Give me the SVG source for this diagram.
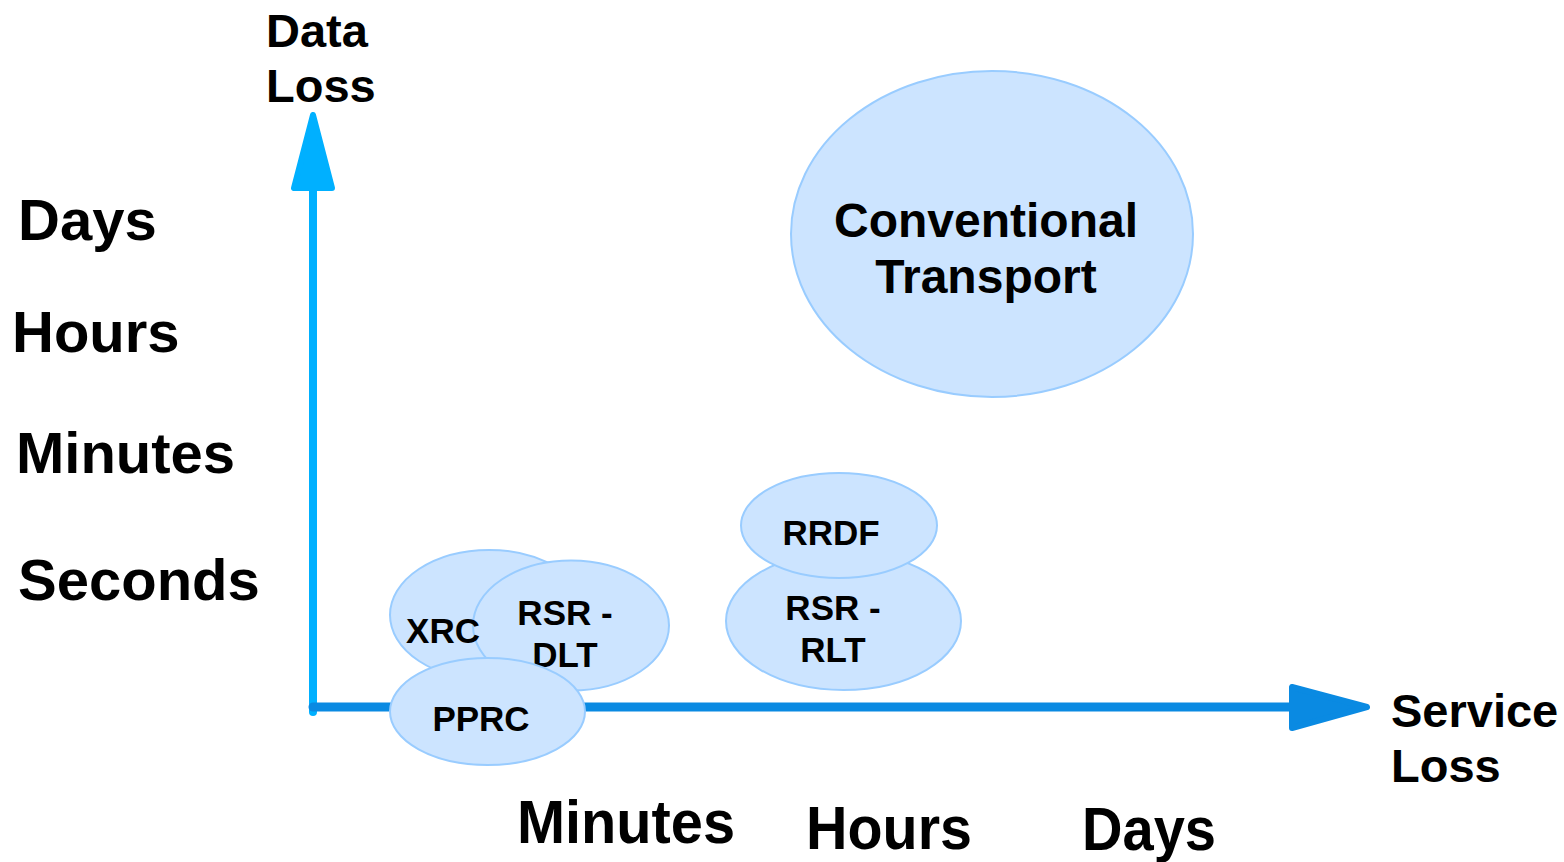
<svg xmlns="http://www.w3.org/2000/svg" width="1564" height="862" viewBox="0 0 1564 862">
<style>
.bubble{fill:#CCE4FF;stroke:#99CCFF;stroke-width:2}
.t{font-family:"Liberation Sans",Arial,sans-serif;font-weight:bold;fill:#000}
.lbl{font-size:35px;text-anchor:middle}
.axl{font-size:58px}
.ttl{font-size:47px}
.bot{font-size:61px}
</style>
<rect width="1564" height="862" fill="#fff"/>
<g id="connectors">
  <line x1="313" y1="712" x2="313" y2="185" stroke="#00B0FF" stroke-width="8" stroke-linecap="round"/>
  <polygon points="313,115 294,188 332,188" fill="#00B0FF" stroke="#00B0FF" stroke-width="6" stroke-linejoin="round"/>
  <line x1="313" y1="707" x2="1295" y2="707" stroke="#0A8AE2" stroke-width="9" stroke-linecap="round"/>
  <polygon points="1367,707 1292,687 1292,728" fill="#0A8AE2" stroke="#0A8AE2" stroke-width="6" stroke-linejoin="round"/>
</g>
<g id="axis-labels">
  <text class="t ttl" x="266" y="47">Data</text>
  <text class="t ttl" x="266" y="102">Loss</text>
  <text class="t axl" x="18" y="240">Days</text>
  <text class="t axl" x="12" y="352">Hours</text>
  <text class="t axl" x="16" y="473">Minutes</text>
  <text class="t axl" x="18" y="600">Seconds</text>
  <text class="t ttl" x="1391" y="727">Service</text>
  <text class="t ttl" x="1391" y="782">Loss</text>
  <text class="t bot" x="517" y="843" textLength="218" lengthAdjust="spacingAndGlyphs">Minutes</text>
  <text class="t bot" x="806" y="849" textLength="166" lengthAdjust="spacingAndGlyphs">Hours</text>
  <text class="t bot" x="1082" y="850" textLength="134" lengthAdjust="spacingAndGlyphs">Days</text>
</g>
<g id="conventional">
  <ellipse class="bubble" cx="992" cy="234" rx="201" ry="163"/>
  <text class="t ttl" x="986" y="237" text-anchor="middle" style="font-size:48px">Conventional</text>
  <text class="t ttl" x="986" y="293" text-anchor="middle" style="font-size:48px">Transport</text>
</g>
<g id="xrc">
  <ellipse class="bubble" cx="489" cy="615" rx="99" ry="65"/>
</g>
<g id="rsr-dlt">
  <ellipse class="bubble" cx="571" cy="625.5" rx="98" ry="65"/>
  <text class="t lbl" x="565" y="625">RSR -</text>
  <text class="t lbl" x="565" y="667">DLT</text>
</g>
<g id="xrc-label">
  <text class="t lbl" x="443" y="643">XRC</text>
</g>
<g id="pprc">
  <ellipse class="bubble" cx="487.5" cy="711.5" rx="97.5" ry="53.5"/>
  <text class="t lbl" x="481" y="731">PPRC</text>
</g>
<g id="rsr-rlt">
  <ellipse class="bubble" cx="843.5" cy="621" rx="117.5" ry="69"/>
  <text class="t lbl" x="833" y="620">RSR -</text>
  <text class="t lbl" x="833" y="662">RLT</text>
</g>
<g id="rrdf">
  <ellipse class="bubble" cx="839" cy="525.5" rx="98" ry="52.5"/>
  <text class="t lbl" x="831" y="545">RRDF</text>
</g>
</svg>
